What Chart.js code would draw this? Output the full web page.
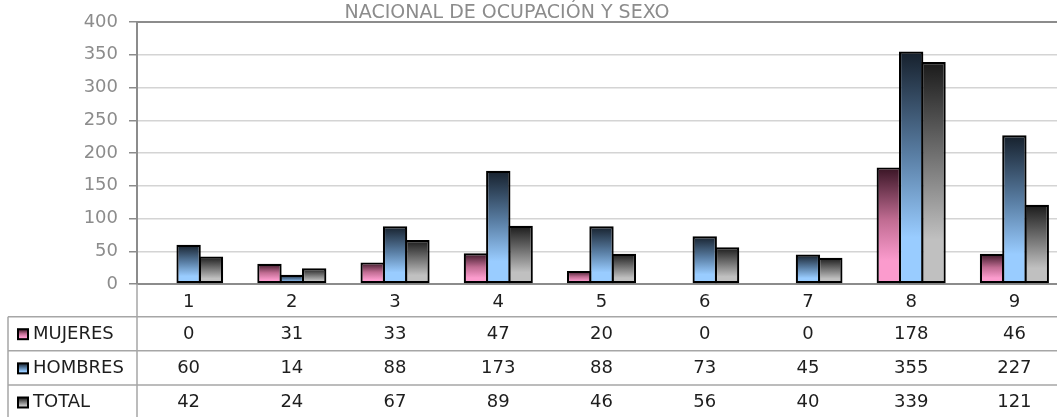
<!DOCTYPE html>
<html>
<head>
<meta charset="utf-8">
<script src="https://cdn.jsdelivr.net/npm/chart.js@4.4.1/dist/chart.umd.min.js"></script>
<style>
    html, body { margin: 0; padding: 0; background: #fff; overflow: hidden; }
    #caja { width: 1066px; height: 417px; }
</style>
</head>
<body>
<div id="caja"><canvas id="grafico" width="1066" height="417"></canvas></div>
<script>
// Datos del gráfico
const categorias = ["1", "2", "3", "4", "5", "6", "7", "8", "9"];
const mujeres = [0, 31, 33, 47, 20, 0, 0, 178, 46];
const hombres = [60, 14, 88, 173, 88, 73, 45, 355, 227];
const total = [42, 24, 67, 89, 46, 56, 40, 339, 121];
const etiquetasY = [0, 50, 100, 150, 200, 250, 300, 350, 400];
const titulo = "NACIONAL DE OCUPACIÓN Y SEXO";

const series = [
    { nombre: "MUJERES", datos: mujeres, oscuro: "#381424", medio: "#c06c92", claro: "#fb9bcd" },
    { nombre: "HOMBRES", datos: hombres, oscuro: "#16202c", medio: "#5a7fa5", claro: "#99ccff" },
    { nombre: "TOTAL", datos: total, oscuro: "#1a1a1a", medio: "#777777", claro: "#c0c0c0" }
];

const fuente = "'DejaVu Sans', sans-serif";

function degradado(ctx, y0, y1, s) {
    const g = ctx.createLinearGradient(0, y0, 0, y1);
    g.addColorStop(0, s.oscuro);
    g.addColorStop(0.45, s.medio);
    g.addColorStop(0.8, s.claro);
    g.addColorStop(1, s.claro);
    return g;
}

// Título y tabla de datos debajo del eje
const tablaPlugin = {
    id: "tabla",
    afterDraw(chart) {
        const ctx = chart.ctx;
        const area = chart.chartArea;
        const x = chart.scales.x;
        const ancho = chart.width;

        ctx.save();
        // título
        ctx.font = "19px " + fuente;
        ctx.fillStyle = "#8c8c8c";
        ctx.textAlign = "center";
        ctx.textBaseline = "alphabetic";
        ctx.fillText(titulo, 507, 18);

        // marco superior
        ctx.strokeStyle = "#8c8c8c";
        ctx.lineWidth = 2;
        ctx.beginPath();
        ctx.moveTo(area.left, area.top);
        ctx.lineTo(ancho, area.top);
        ctx.stroke();

        // líneas de la tabla
        ctx.strokeStyle = "#a6a6a6";
        ctx.lineWidth = 1.5;
        ctx.beginPath();
        ctx.moveTo(area.left, area.bottom);
        ctx.lineTo(area.left, 417);
        const filasY = [316.7, 350.7, 385, 419];
        filasY.forEach(yy => {
            ctx.moveTo(8, yy);
            ctx.lineTo(ancho, yy);
        });
        ctx.moveTo(8, filasY[0]);
        ctx.lineTo(8, 417);
        ctx.stroke();

        ctx.font = "18px " + fuente;
        ctx.fillStyle = "#1e1e1e";
        ctx.textBaseline = "middle";
        ctx.textAlign = "center";
        categorias.forEach((c, i) => {
            ctx.fillText(c, x.getPixelForValue(i), 302);
        });

        series.forEach((s, f) => {
            const yc = (filasY[f] + filasY[f + 1]) / 2 + 0.5;
            // icono de la leyenda
            ctx.fillStyle = degradado(ctx, yc - 5, yc + 5, s);
            ctx.fillRect(18, yc - 5, 10, 10);
            ctx.strokeStyle = "#000";
            ctx.lineWidth = 2;
            ctx.strokeRect(18, yc - 5, 10, 10);

            ctx.fillStyle = "#1e1e1e";
            ctx.textAlign = "left";
            ctx.fillText(s.nombre, 33, yc);
            ctx.textAlign = "center";
            s.datos.forEach((v, i) => {
                ctx.fillText(String(v), x.getPixelForValue(i), yc);
            });
        });
        ctx.restore();
    }
};

const ctxGrafico = document.getElementById("grafico").getContext("2d");
new Chart(ctxGrafico, {
    type: "bar",
    data: {
        labels: categorias,
        datasets: series.map(s => ({
            label: s.nombre,
            data: s.datos,
            // las barras se solapan un poco para que compartan el borde
            categoryPercentage: 0.65,
            barPercentage: 1.09,
            borderColor: "#000",
            borderWidth: 2.2,
            borderSkipped: false,
            inflateAmount: 0,
            backgroundColor: function (context) {
                const chart = context.chart;
                const y = chart.scales.y;
                if (!y || context.raw === undefined) return s.claro;
                const y0 = y.getPixelForValue(context.raw);
                const y1 = y.getPixelForValue(0);
                if (!isFinite(y0) || !isFinite(y1) || y1 - y0 < 1) return s.claro;
                return degradado(chart.ctx, y0, y1, s);
            }
        }))
    },
    options: {
        responsive: false,
        animation: false,
        events: [],
        layout: { padding: { top: 22, bottom: 133, left: 0, right: 0 } },
        plugins: {
            legend: { display: false },
            title: { display: false },
            tooltip: { enabled: false }
        },
        scales: {
            x: {
                offset: true,
                grid: { display: false },
                ticks: { display: false },
                border: { color: "#8c8c8c", width: 2 },
                afterFit(scale) { scale.height = 0; }
            },
            y: {
                min: 0,
                max: 400,
                afterBuildTicks(scale) {
                    scale.ticks = etiquetasY.map(v => ({ value: v }));
                },
                afterFit(scale) { scale.width = 137; },
                grid: {
                    color: "#d4d4d4",
                    lineWidth: 1.5,
                    tickColor: "#8c8c8c",
                    tickLength: 8
                },
                border: { color: "#8c8c8c", width: 2 },
                ticks: {
                    color: "#8c8c8c",
                    padding: 11,
                    font: { family: fuente, size: 18 }
                }
            }
        }
    },
    plugins: [tablaPlugin]
});
</script>
</body>
</html>
